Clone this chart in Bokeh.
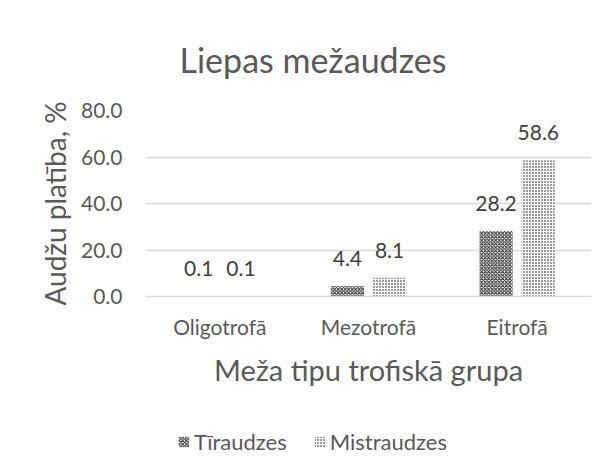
from bokeh.plotting import figure
from bokeh.layouts import column
from bokeh.core.properties import value
from bokeh.models import ColumnDataSource, FactorRange, FixedTicker, NumeralTickFormatter, LabelSet, Legend, LegendItem, Range1d
from bokeh.embed import file_html
from bokeh.resources import INLINE
from bokeh.transform import dodge

categories = ["Oligotrofā", "Mezotrofā", "Eitrofā"]
tiraudzes = [0.1, 4.4, 28.2]
mistraudzes = [0.1, 8.1, 58.6]
series_names = ["Tīraudzes", "Mistraudzes"]
y_ticks = [0, 20, 40, 60, 80]

FONT = "Lato"
GRAY = "#595959"
HATCH_T = dict(fill_color="white", line_color=None, hatch_pattern="diagonal_cross",
               hatch_color="black", hatch_scale=3.5, hatch_weight=0.9)
HATCH_M = dict(fill_color="white", line_color=None, hatch_pattern="dot",
               hatch_color="black", hatch_scale=3, hatch_weight=1)

src = ColumnDataSource(dict(
    cat=categories,
    t=tiraudzes,
    m=mistraudzes,
    tl=[f"{v:.1f}" for v in tiraudzes],
    ml=[f"{v:.1f}" for v in mistraudzes],
))

p = figure(x_range=FactorRange(*categories), y_range=Range1d(0, 80),
           width=605, height=420, output_backend="svg", toolbar_location=None,
           min_border_left=145, min_border_right=14, min_border_top=110, min_border_bottom=124)
p.outline_line_color = None
p.border_fill_color = "white"

p.title.text = "Liepas mežaudzes"
p.title.align = "left"
p.title.offset = 34
p.title.standoff = 62
p.title.text_font = FONT
p.title.text_font_size = "34px"
p.title.text_font_style = "normal"
p.title.text_color = GRAY

p.vbar(x=dodge("cat", -0.142, range=p.x_range), top="t", width=0.223, source=src, **HATCH_T)
p.vbar(x=dodge("cat", 0.142, range=p.x_range), top="m", width=0.223, source=src, **HATCH_M)

for col, off in (("tl", -0.142), ("ml", 0.142)):
    top = "t" if col == "tl" else "m"
    ls = LabelSet(x=dodge("cat", off, range=p.x_range), y=top, text=col, source=src,
                  text_align="center", text_baseline="bottom", y_offset=20,
                  text_font=value(FONT), text_font_size="21px", text_color="#404040")
    p.add_layout(ls)

p.yaxis.ticker = FixedTicker(ticks=y_ticks)
p.yaxis.formatter = NumeralTickFormatter(format="0.0")
p.yaxis.axis_line_color = None
p.yaxis.major_tick_line_color = None
p.yaxis.minor_tick_line_color = None
p.yaxis.major_label_text_font = FONT
p.yaxis.major_label_text_font_size = "21px"
p.yaxis.major_label_text_color = GRAY
p.yaxis.major_label_standoff = 17
p.yaxis.axis_label = "Audžu platība, %"
p.yaxis.axis_label_text_font = FONT
p.yaxis.axis_label_text_font_size = "28px"
p.yaxis.axis_label_text_font_style = "normal"
p.yaxis.axis_label_text_color = GRAY
p.yaxis.axis_label_standoff = 6

p.xaxis.axis_line_color = "#d9d9d9"
p.xaxis.axis_line_width = 1.5
p.xaxis.major_tick_line_color = None
p.xaxis.minor_tick_line_color = None
p.xaxis.major_label_text_font = FONT
p.xaxis.major_label_text_font_size = "21px"
p.xaxis.major_label_text_color = GRAY
p.xaxis.major_label_standoff = 11
p.xaxis.axis_label = "Meža tipu trofiskā grupa"
p.xaxis.axis_label_text_font = FONT
p.xaxis.axis_label_text_font_size = "29px"
p.xaxis.axis_label_text_font_style = "normal"
p.xaxis.axis_label_text_color = GRAY
p.xaxis.axis_label_standoff = 10

p.xgrid.grid_line_color = None
p.ygrid.grid_line_color = "#d9d9d9"
p.ygrid.grid_line_width = 1.5

# legend strip below the chart (proxy bars have zero height)
lg = figure(width=605, height=47, output_backend="svg", toolbar_location=None,
            x_range=Range1d(0, 1), y_range=Range1d(0, 1), x_axis_type=None, y_axis_type=None,
            min_border=0)
lg.outline_line_color = None
lg.xgrid.grid_line_color = None
lg.ygrid.grid_line_color = None
rt = lg.vbar(x=[0.5], top=[0], bottom=[0], width=0.1, **HATCH_T)
rm = lg.vbar(x=[0.5], top=[0], bottom=[0], width=0.1, **HATCH_M)
legend = Legend(items=[LegendItem(label=series_names[0], renderers=[rt], index=0),
                       LegendItem(label=series_names[1], renderers=[rm], index=0)],
                orientation="horizontal", location=(32, 12),
                label_text_font=FONT, label_text_font_size="22px", label_text_color=GRAY,
                glyph_width=13, glyph_height=13, spacing=26, label_standoff=4,
                border_line_color=None, background_fill_alpha=0, padding=0, margin=0)
lg.add_layout(legend, "center")

layout = column(p, lg, spacing=0)
open("out.html", "w").write(file_html(layout, INLINE))
